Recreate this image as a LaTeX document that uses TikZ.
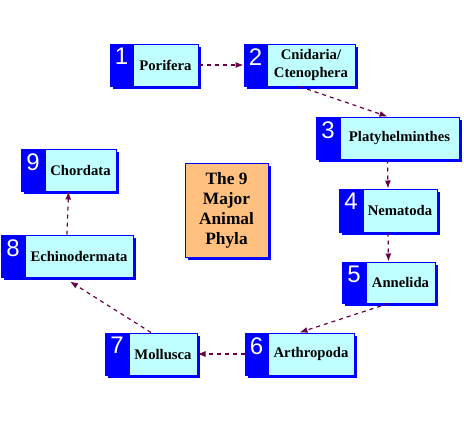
\documentclass[tikz,border=0pt]{standalone}
\usepackage{fontspec}
\setmainfont{Liberation Serif}
\newfontfamily\numfont{Liberation Sans}
\usetikzlibrary{fit,arrows.meta,calc}
\definecolor{cyanl}{RGB}{192,255,255}
\definecolor{orangel}{RGB}{255,192,128}
\definecolor{arrowc}{RGB}{102,0,68}
\definecolor{bblue}{RGB}{0,0,255}
\tikzset{
  panel/.style={draw=bblue, fill=bblue, inner sep=0pt, line width=0.75pt},
  labelbox/.style={draw=bblue, fill=cyanl, inner sep=0pt, line width=0.75pt},
  labeltext/.style={inner sep=0pt, align=center, font=\bfseries\fontsize{11}{13.5}\selectfont},
  numlabel/.style={anchor=north, inner sep=0pt, text=white, font=\numfont\fontsize{18}{18}\selectfont},
  shadowbox/.style={fill=bblue},
  conn/.style={draw=arrowc, line width=0.9pt, dash pattern=on 3pt off 3pt,
    -{Latex[length=6pt,width=4.5pt]}},
}
\newcommand{\phylum}[8]{%
  \fill[shadowbox] (#2+3,#3+3) rectangle (#4+3,#5+3);
  \node[panel, fit={(#2,#3) (#4,#5)}] (#1) {};
  \node[labelbox, fit={(#6,#3) (#4,#5)}] (#1t) {};
  \node[labeltext] (#1l) at ({(#6+#4)/2},{(#3+#5)/2}) {#8};
  \node[numlabel] (#1n) at ({(#2+#6)/2},#3+4) {#7};
}
\begin{document}
\begin{tikzpicture}[x=0.75pt,y=-0.75pt]
\useasboundingbox (0,0) rectangle (464,422);
\fill[white] (0,0) rectangle (464,422);
\phylum{b1}{110}{44}{198}{86}{133}{1}{Porifera}
\phylum{b2}{244}{44}{355}{86}{267}{2}{Cnidaria/\\Ctenophera}
\phylum{b3}{316}{117}{459}{159}{340}{3}{Platyhelminthes}
\phylum{b4}{339}{189}{437}{232}{363}{4}{Nematoda}
\phylum{b5}{342}{262}{435}{303}{366}{5}{Annelida}
\phylum{b6}{245}{333}{354}{375}{268}{6}{Arthropoda}
\phylum{b7}{105}{333}{197}{375}{129}{7}{Mollusca}
\phylum{b8}{1}{235}{133}{277}{25}{8}{Echinodermata}
\phylum{b9}{21}{149}{116}{191}{45}{9}{Chordata}
% title box
\fill[shadowbox] (188,166) rectangle (271,260);
\node[draw=bblue, fill=orangel, inner sep=0pt, line width=0.75pt, fit={(185,163) (268,257)}] (title) {};
\node[inner sep=0pt, align=center, font=\bfseries\fontsize{13}{15}\selectfont] (titletext) at (226.5,210) {The 9\\Major\\Animal\\Phyla};
% connectors
\draw[conn] (b1) -- (b2);
\draw[conn] (b2.south) -- (b3.north);
\draw[conn] (b3.south) -- (b4.north);
\draw[conn] (b4.south) -- (b5.north);
\draw[conn] (b5.south) -- (b6.north);
\draw[conn] (b6) -- (b7);
\coordinate (b8end) at ($(b8.south)+(3,4)$);
\draw[conn] (b7.north) -- (b8end);
\draw[conn] (b8.north) -- (b9.south);
\end{tikzpicture}
\end{document}
